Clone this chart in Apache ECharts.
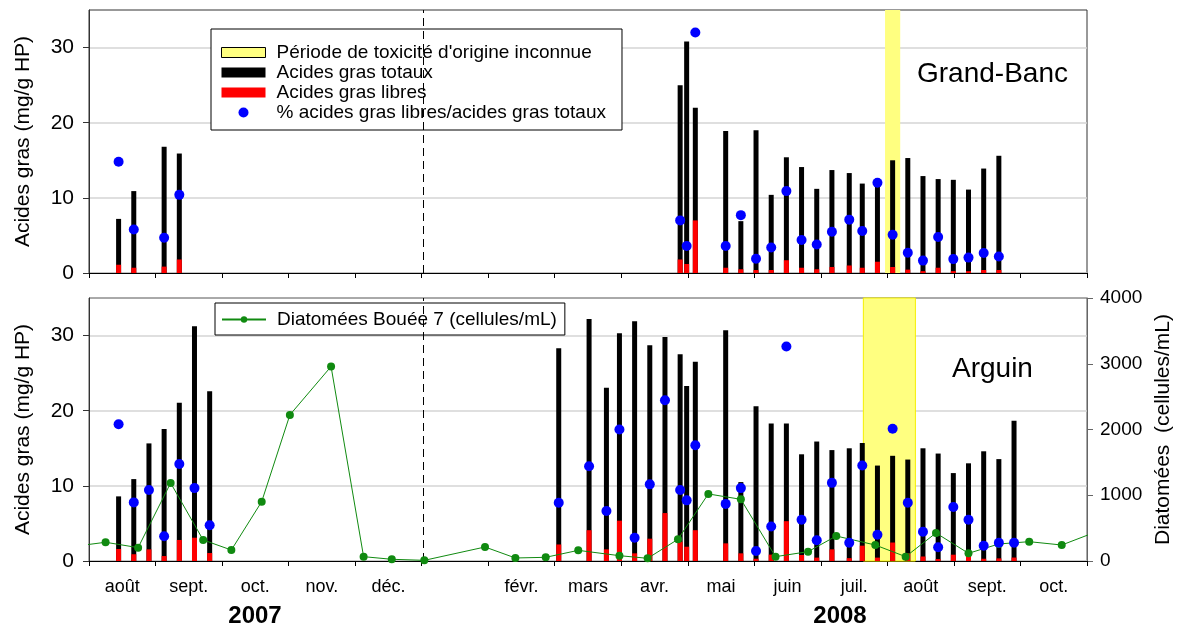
<!DOCTYPE html>
<html>
<head>
<meta charset="utf-8">
<script src="https://cdn.jsdelivr.net/npm/echarts@6/dist/echarts.min.js"></script>
<style>
  html, body { margin: 0; padding: 0; background: #fff; }
  #chart { width: 1189px; height: 628px; }
</style>
</head>
<body>
<div id="chart"></div>
<script>
// Month captions along the shared date axis (Aug 2007 – Oct 2008)
const monthLabels = ['août', 'sept.', 'oct.', 'nov.', 'déc.', '', 'févr.', 'mars', 'avr.', 'mai', 'juin', 'juil.', 'août', 'sept.', 'oct.'];
const yearLabels = ['2007', '2008'];

// Grand-Banc: total fatty acids, free fatty acids (mg/g HP) and % free/total
const gbDates = ['2007-08-13', '2007-08-20', '2007-09-03', '2007-09-10',
  '2008-04-28', '2008-05-01', '2008-05-05', '2008-05-19', '2008-05-26', '2008-06-02', '2008-06-09',
  '2008-06-16', '2008-06-23', '2008-06-30', '2008-07-07', '2008-07-15', '2008-07-21', '2008-07-28',
  '2008-08-04', '2008-08-11', '2008-08-18', '2008-08-25', '2008-09-01', '2008-09-08', '2008-09-15', '2008-09-22'];
const gbTotal = [7.2, 10.9, 16.8, 15.9,
  25.0, 30.8, 22.0, 18.9, 6.9, 19.0, 10.4,
  15.4, 14.1, 11.2, 13.7, 13.3, 11.9, 11.8,
  15.0, 15.3, 12.9, 12.5, 12.4, 11.1, 13.9, 15.6];
const gbFree = [1.1, 0.7, 0.85, 1.8,
  1.8, 1.2, 7.0, 0.7, 0.5, 0.4, 0.4,
  1.7, 0.7, 0.5, 0.8, 1.0, 0.7, 1.5,
  0.8, 0.45, 0.25, 0.7, 0.25, 0.25, 0.4, 0.4];
const gbPct = [14.8, 5.8, 4.7, 10.4,
  7.0, 3.6, 32.0, 3.6, 7.7, 1.9, 3.4,
  10.9, 4.4, 3.8, 5.5, 7.1, 5.6, 12.0,
  5.1, 2.7, 1.65, 4.8, 1.85, 2.05, 2.65, 2.2];

// Arguin: same measurements
const arDates = ['2007-08-13', '2007-08-20', '2007-08-27', '2007-09-03', '2007-09-10', '2007-09-17', '2007-09-24',
  '2008-03-03', '2008-03-17', '2008-03-25', '2008-03-31', '2008-04-07', '2008-04-14', '2008-04-21',
  '2008-04-28', '2008-05-01', '2008-05-05', '2008-05-19', '2008-05-26', '2008-06-02', '2008-06-09',
  '2008-06-16', '2008-06-23', '2008-06-30', '2008-07-07', '2008-07-15', '2008-07-21', '2008-07-28',
  '2008-08-04', '2008-08-11', '2008-08-18', '2008-08-25', '2008-09-01', '2008-09-08', '2008-09-15',
  '2008-09-22', '2008-09-29'];
const arTotal = [8.6, 10.9, 15.65, 17.55, 21.05, 31.25, 22.6,
  28.3, 32.2, 23.05, 30.3, 31.9, 28.7, 29.8,
  27.5, 23.3, 26.5, 30.7, 10.5, 20.6, 18.3,
  18.3, 14.2, 15.9, 14.76, 15.0, 15.7, 12.7,
  14.0, 13.5, 15.0, 14.3, 11.7, 13.0, 14.6,
  13.56, 18.66];
const arFree = [1.6, 0.9, 1.55, 0.66, 2.8, 3.1, 1.06,
  2.2, 4.1, 1.55, 5.37, 1.02, 2.97, 6.38,
  2.57, 1.9, 4.1, 2.35, 1.02, 0.3, 0.85,
  5.3, 0.8, 0.45, 1.55, 0.38, 2.04, 0.45,
  2.46, 1.02, 0.6, 0.27, 0.84, 0.72, 0.3,
  0.35, 0.46];
const arPct = [18.2, 7.8, 9.45, 3.3, 12.9, 9.7, 4.75,
  7.76, 12.6, 6.65, 17.5, 3.1, 10.2, 21.4,
  9.44, 8.07, 15.4, 7.6, 9.7, 1.33, 4.6,
  28.55, 5.5, 2.75, 10.4, 2.44, 12.7, 3.5,
  17.6, 7.76, 3.9, 1.82, 7.18, 5.5, 2.04,
  2.44, 2.44];

// Diatoms at buoy 7 (cells/mL)
const diaDates = ['2007-07-24', '2007-08-07', '2007-08-22', '2007-09-06', '2007-09-21', '2007-10-04',
  '2007-10-18', '2007-10-31', '2007-11-19', '2007-12-04', '2007-12-17', '2008-01-01',
  '2008-01-29', '2008-02-12', '2008-02-26', '2008-03-12', '2008-03-31', '2008-04-13',
  '2008-04-27', '2008-05-11', '2008-05-26', '2008-06-11', '2008-06-26', '2008-07-09',
  '2008-07-27', '2008-08-10', '2008-08-24', '2008-09-08', '2008-09-22', '2008-10-06',
  '2008-10-21', '2008-11-04'];
const diaValues = [225, 285, 203, 1187, 320, 167,
  903, 2222, 2958, 66, 26, 10,
  213, 46, 56, 162, 81, 41,
  330, 1020, 938, 66, 142, 380,
  243, 66, 426, 117, 259, 294,
  243, 420];

// Periods of toxicity of unknown origin
const gbToxic = ['2008-08-01', '2008-08-08'];
const arToxic = ['2008-07-22', '2008-08-15'];
const yearBreak = '2008-01-01';
const axisStart = '2007-08-01';
const axisEnd = '2008-11-01';

const FONT = '"Liberation Sans", Arial, Helvetica, sans-serif';
const NAME_TOX = "Période de toxicité d'origine inconnue";
const NAME_TOT = 'Acides gras totaux';
const NAME_FREE = 'Acides gras libres';
const NAME_PCT = '% acides gras libres/acides gras totaux';
const NAME_DIA = 'Diatomées Bouée 7 (cellules/mL)';

function dayStart(s) { const [y, m, d] = s.split('-').map(Number); return new Date(y, m - 1, d).getTime(); }
function midDay(s) { const [y, m, d] = s.split('-').map(Number); return new Date(y, m - 1, d, 12).getTime(); }
const pairs = (dates, vals) => dates.map((d, i) => [midDay(d), vals[i]]);

const monthKeys = monthLabels.map((_, i) => 'm' + i);

function timeAxis(gridIndex) {
  return {
    type: 'time', gridIndex, min: dayStart(axisStart), max: dayStart(axisEnd),
    axisLine: { show: true, lineStyle: { color: '#000', width: 1 } },
    axisTick: { show: false }, axisLabel: { show: false }, splitLine: { show: false }
  };
}
function monthAxis(gridIndex, showLabels) {
  return {
    type: 'category', gridIndex, data: monthKeys, boundaryGap: true, position: 'bottom',
    axisLine: { show: false },
    axisTick: { show: true, interval: 0, length: 5, lineStyle: { color: '#000', width: 1 } },
    axisLabel: {
      show: showLabels, interval: 0, margin: 17, color: '#000', fontSize: 18, fontFamily: FONT,
      formatter: (v, i) => monthLabels[i]
    },
    splitLine: { show: false }
  };
}
function leftAxis(gridIndex) {
  return {
    type: 'value', gridIndex, position: 'left', min: 0, max: 35, interval: 10,
    name: 'Acides gras (mg/g HP)', nameLocation: 'middle', nameGap: 55, nameRotate: 90,
    nameMoveOverlap: false,
    nameTextStyle: { fontSize: 21, fontFamily: FONT, color: '#000' },
    axisLine: { show: true, lineStyle: { color: '#333', width: 1 } },
    axisTick: { show: true, length: 6, customValues: [0, 10, 20, 30], lineStyle: { color: '#333' } },
    axisLabel: { margin: 15, fontSize: 21, fontFamily: FONT, color: '#000', formatter: v => (v === 35 ? '' : String(v)) },
    splitLine: { show: true, lineStyle: { color: '#d4d4d4', width: 1.5 } }
  };
}

const blackBar = (name, data, xi, yi) => ({
  name, type: 'bar', xAxisIndex: xi, yAxisIndex: yi, data, barWidth: 5, barGap: '-100%',
  itemStyle: { color: '#000' }, z: 3
});
const redBar = (name, data, xi, yi) => ({
  name, type: 'bar', xAxisIndex: xi, yAxisIndex: yi, data, barWidth: 5, barGap: '-100%',
  itemStyle: { color: '#ff0000' }, z: 3
});
const dots = (data, xi, yi) => ({
  name: NAME_PCT, type: 'scatter', xAxisIndex: xi, yAxisIndex: yi, data,
  symbol: 'circle', symbolSize: 10, itemStyle: { color: '#0000ff', opacity: 1 }, z: 6
});
const toxicBand = (range, xi, yi, border) => ({
  name: NAME_TOX, type: 'bar', xAxisIndex: xi, yAxisIndex: yi, data: [], barWidth: 5, barGap: '-100%',
  itemStyle: { color: '#ffff80' }, z: 1,
  markArea: {
    silent: true,
    itemStyle: { color: '#ffff80', borderColor: border ? '#f5f000' : 'transparent', borderWidth: border ? 1 : 0 },
    label: { show: false },
    data: [[{ xAxis: dayStart(range[0]) }, { xAxis: dayStart(range[1]) }]]
  },
  markLine: {
    silent: true, symbol: ['none', 'none'], label: { show: false },
    lineStyle: { color: '#000', width: 1, type: [8, 5] },
    data: [{ xAxis: dayStart(yearBreak) }]
  }
});

const chart = echarts.init(document.getElementById('chart'), null, { renderer: 'canvas' });
chart.setOption({
  animation: false,
  backgroundColor: '#fff',
  textStyle: { fontFamily: FONT },
  grid: [
    { left: 89, top: 10, width: 998, height: 263, show: true, borderColor: '#333', borderWidth: 1,
      backgroundColor: 'transparent', containLabel: false, outerBoundsMode: 'none' },
    { left: 89, top: 298, width: 998, height: 263, show: true, borderColor: '#555', borderWidth: 1,
      backgroundColor: 'transparent', containLabel: false, outerBoundsMode: 'none' }
  ],
  xAxis: [timeAxis(0), monthAxis(0, false), timeAxis(1), monthAxis(1, true)],
  yAxis: [
    leftAxis(0),
    leftAxis(1),
    {
      type: 'value', gridIndex: 1, position: 'right', min: 0, max: 4000, interval: 1000,
      name: 'Diatomées  (cellules/mL)', nameLocation: 'middle', nameGap: 66, nameRotate: 90,
      nameMoveOverlap: false,
      nameTextStyle: { fontSize: 21, fontFamily: FONT, color: '#000' },
      axisLine: { show: true, lineStyle: { color: '#666', width: 1 } },
      axisTick: { show: true, length: 6, lineStyle: { color: '#666' } },
      axisLabel: { margin: 13, fontSize: 19, fontFamily: FONT, color: '#000', formatter: v => String(v) },
      splitLine: { show: false }
    }
  ],
  legend: [
    {
      orient: 'vertical', left: 211, top: 29, itemWidth: 44, itemHeight: 10, itemGap: 1,
      padding: [14, 16, 8, 10], borderColor: '#000', borderWidth: 1, backgroundColor: '#fff',
      selectedMode: false,
      textStyle: { fontSize: 19, lineHeight: 19, fontFamily: FONT, color: '#000', padding: [0, 0, 0, 6] },
      data: [
        { name: NAME_TOX, icon: 'rect', itemStyle: { color: '#ffff80', borderColor: '#000', borderWidth: 1 } },
        { name: NAME_TOT, icon: 'rect' },
        { name: NAME_FREE, icon: 'rect' },
        { name: NAME_PCT, icon: 'circle', itemStyle: { color: '#0000ff', opacity: 1 } }
      ]
    },
    {
      orient: 'vertical', left: 215, top: 303, itemWidth: 44, itemHeight: 8, itemGap: 1,
      padding: [7, 8, 6, 6], borderColor: '#000', borderWidth: 1, backgroundColor: '#fff',
      selectedMode: false,
      textStyle: { fontSize: 19, lineHeight: 19, fontFamily: FONT, color: '#000', padding: [0, 0, 0, 6] },
      data: [{ name: NAME_DIA }]
    }
  ],
  graphic: [
    { type: 'text', x: 917, y: 74, style: { text: 'Grand-Banc', font: '28px ' + FONT, fill: '#000', verticalAlign: 'middle' } },
    { type: 'text', x: 952, y: 369, style: { text: 'Arguin', font: '28px ' + FONT, fill: '#000', verticalAlign: 'middle' } },
    { type: 'text', x: 255, y: 616, style: { text: yearLabels[0], font: 'bold 24px ' + FONT, fill: '#000', align: 'center', verticalAlign: 'middle' } },
    { type: 'text', x: 840, y: 616, style: { text: yearLabels[1], font: 'bold 24px ' + FONT, fill: '#000', align: 'center', verticalAlign: 'middle' } }
  ],
  series: [
    toxicBand(gbToxic, 0, 0, false),
    blackBar(NAME_TOT, pairs(gbDates, gbTotal), 0, 0),
    redBar(NAME_FREE, pairs(gbDates, gbFree), 0, 0),
    dots(pairs(gbDates, gbPct), 0, 0),

    toxicBand(arToxic, 2, 1, true),
    blackBar(NAME_TOT, pairs(arDates, arTotal), 2, 1),
    redBar(NAME_FREE, pairs(arDates, arFree), 2, 1),
    {
      name: NAME_DIA, type: 'line', xAxisIndex: 2, yAxisIndex: 2, data: pairs(diaDates, diaValues),
      symbol: 'circle', symbolSize: 8, showAllSymbol: true, clip: true,
      lineStyle: { color: '#108a10', width: 1 }, itemStyle: { color: '#108a10' }, z: 5
    },
    dots(pairs(arDates, arPct), 2, 1)
  ]
});
</script>
</body>
</html>
